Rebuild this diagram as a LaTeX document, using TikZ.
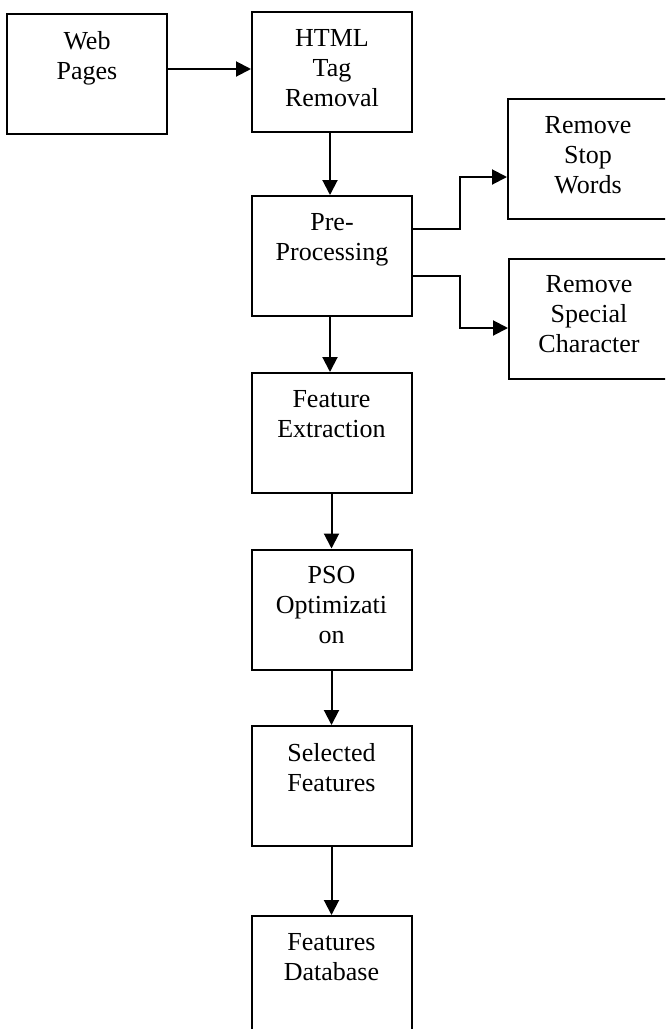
\documentclass[tikz,border=0pt]{standalone}
\usepackage{fontspec}
\setmainfont{Liberation Serif}
\usetikzlibrary{arrows.meta}

\newcommand{\boxtext}[1]{\parbox[c][120pt][t]{158pt}{\centering\vspace*{17pt}#1}}

\begin{document}
\begin{tikzpicture}[x=1pt,y=-1pt,
		stage/.style={draw, line width=2pt, minimum width=160pt, minimum height=120pt, inner sep=0pt,
			font=\fontsize{26}{30}\selectfont},
		flow/.style={line width=2pt, -{Triangle[length=15pt,width=15pt]}}]
		\useasboundingbox (0,0) rectangle (665,1029);
		\clip (0,0) rectangle (665,1029);
		\node[stage] (web) at (87,74) {\boxtext{Web\\Pages}};
		\node[stage] (html) at (332,72) {\boxtext{HTML\\Tag\\Removal}};
		\node[stage] (pre) at (332,256) {\boxtext{Pre-\\Processing}};
		\node[stage] (stop) at (588,159) {\boxtext{Remove\\Stop\\Words}};
		\node[stage] (spec) at (589,318.5) {\boxtext{Remove\\Special\\Character}};
		\node[stage] (feat) at (331.5,433) {\boxtext{Feature\\Extraction}};
		\node[stage] (pso) at (331.5,609.5) {\boxtext{PSO\\Optimizati\\on}};
		\node[stage] (sel) at (331.5,786) {\boxtext{Selected\\Features}};
		\node[stage] (db) at (331.5,976) {\boxtext{Features\\Database}};
		\draw[flow] ([yshift=5pt]web.east) -- ([yshift=3pt]html.west);
		\draw[flow] ([xshift=-2pt]html.south) -- ([xshift=-2pt]pre.north);
		\draw[flow] ([yshift=27pt]pre.east) -- ++(47,0) |- ([yshift=-18pt]stop.west);
		\draw[flow] ([yshift=-20pt]pre.east) -- ++(47,0) |- ([yshift=-9.5pt]spec.west);
		\draw[flow] ([xshift=-2pt]pre.south) -- ([xshift=-1.5pt]feat.north);
		\draw[flow] (feat.south) -- (pso.north);
		\draw[flow] (pso.south) -- (sel.north);
		\draw[flow] (sel.south) -- (db.north);
	\end{tikzpicture}
\end{document}
